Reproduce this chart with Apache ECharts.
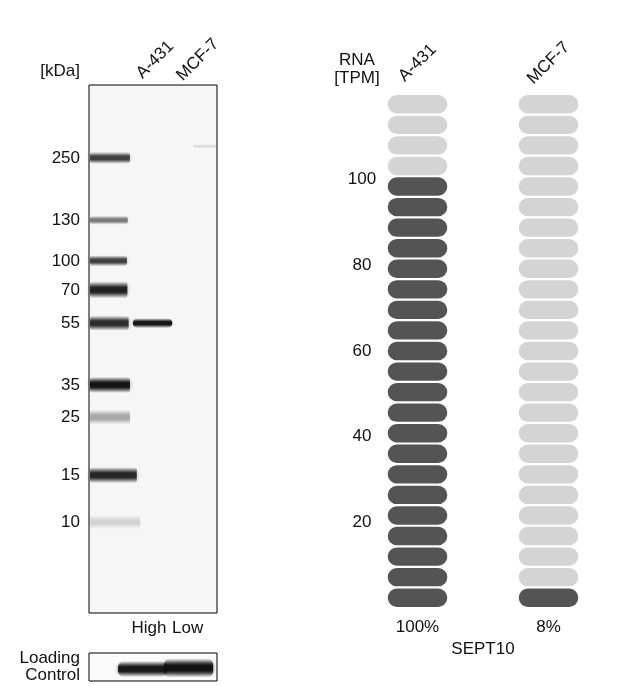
<!DOCTYPE html>
<html><head><meta charset="utf-8">
<script src="https://cdn.jsdelivr.net/npm/echarts@6/dist/echarts.min.js"></script>
<style>html,body{margin:0;padding:0;background:#fff}#c{width:642px;height:686px}</style>
</head><body><div id="c"></div>
<script>
// ---------------- data ----------------
const blotLanes = ['', 'A-431', 'MCF-7'];
const loadLanes = ['', 'High', 'Low'];
const ladderKDa = [250, 130, 100, 70, 55, 35, 25, 15, 10];
const ladderPos = [13.8, 25.6, 33.3, 38.8, 45.1, 56.8, 62.9, 73.9, 82.8]; // migration, % of blot height
const ladderIntensity = [0.75, 0.5, 0.75, 0.9, 0.85, 0.98, 0.32, 0.88, 0.15];
const sampleLane = ['A-431', 'MCF-7'];
const samplePos = [45.1, 11.6];
const sampleIntensity = [0.98, 0.12];
const loadingLane = ['High', 'Low'];
const loadingIntensity = [0.95, 1.0];
const rnaSamples = ['A-431', 'MCF-7'];
const rnaTPM = [101, 8];
const rnaTicks = [20, 40, 60, 80, 100];
const gene = 'SEPT10';
const pillCount = 25;
const rnaMax = 120;

// ---------------- style ----------------
const FONT = '"Liberation Sans", Arial, sans-serif';
const TXT = '#111';
const FS = 17;
const ladderBandPx = [12, 9, 11, 17, 15, 16, 15, 16, 14];
const ladderBandRight = [0.96, 0.91, 0.89, 0.9, 0.93, 0.96, 0.96, 1.12, 1.2];
const sampleBandShape = [{l: -0.47, r: 0.45, h: 10}, {l: -0.06, r: 0.5, h: 4}];
const loadBandShape = [{l: -0.82, r: 0.32, h: 16, dy: 2}, {l: -0.74, r: 0.41, h: 19, dy: 1}];
const lowerLabelShift = {High: 8, Low: 16};
const DARK = '#545454', LIGHT = '#d4d4d4';

function bandFill(a) {
  const col = k => 'rgba(15,15,15,' + (a * k).toFixed(3) + ')';
  return new echarts.graphic.LinearGradient(0, 0, 0, 1, [
    {offset: 0, color: col(0)}, {offset: 0.18, color: col(0.45)}, {offset: 0.35, color: col(0.95)},
    {offset: 0.5, color: col(1)}, {offset: 0.65, color: col(0.95)}, {offset: 0.82, color: col(0.45)}, {offset: 1, color: col(0)}
  ]);
}

const step = rnaMax / pillCount;
const maxTPM = Math.max(...rnaTPM);
const pct = rnaTPM.map(v => Math.round(v / maxTPM * 100));
const pillData = [];
rnaSamples.forEach((s, si) => {
  const nDark = Math.floor(rnaTPM[si] / step);
  for (let k = 0; k < pillCount; k++) pillData.push([si, k * step, (k + 1) * step, k < nDark ? 1 : 0]);
});

const chart = echarts.init(document.getElementById('c'), null, {renderer: 'canvas'});
const lbl = {fontFamily: FONT, fontSize: FS, color: TXT};
const hidden = {axisLine: {show: false}, axisTick: {show: false}, splitLine: {show: false}};

chart.setOption({
  backgroundColor: '#fff',
  animation: false,
  grid: [
    {left: 89, top: 85, width: 128, height: 528, show: true, borderColor: '#000', borderWidth: 1, backgroundColor: '#f6f6f6', outerBoundsMode: 'none', containLabel: false},
    {left: 89, top: 653, width: 128, height: 28, show: true, borderColor: '#000', borderWidth: 1, backgroundColor: '#fafafa', outerBoundsMode: 'none', containLabel: false},
    {left: 352, top: 94, width: 262, height: 514, show: false, outerBoundsMode: 'none', containLabel: false}
  ],
  xAxis: [
    Object.assign({gridIndex: 0, type: 'category', data: blotLanes, position: 'top',
      axisLabel: Object.assign({rotate: 45, align: 'center', verticalAlign: 'middle', margin: 23, interval: 0, padding: [0, 0, 0, 6]}, lbl)}, hidden),
    Object.assign({gridIndex: 0, type: 'category', position: 'bottom',
      data: loadLanes.map(v => ({value: v, textStyle: {padding: [0, lowerLabelShift[v] || 0, 0, 0]}})),
      axisLabel: Object.assign({margin: 7, interval: 0}, lbl)}, hidden),
    Object.assign({gridIndex: 1, type: 'category', data: loadLanes, axisLabel: {show: false}}, hidden),
    Object.assign({gridIndex: 2, type: 'category', data: rnaSamples, position: 'top',
      axisLabel: Object.assign({rotate: 45, align: 'center', verticalAlign: 'middle', margin: 31, interval: 0}, lbl)}, hidden),
    Object.assign({gridIndex: 2, type: 'category', data: rnaSamples, position: 'bottom',
      name: gene, nameLocation: 'middle', nameGap: 32, nameTextStyle: lbl,
      axisLabel: Object.assign({margin: 11, interval: 0, formatter: (v, i) => pct[i] + '%'}, lbl)}, hidden)
  ],
  yAxis: [
    Object.assign({gridIndex: 0, type: 'value', inverse: true, min: 0, max: 100,
      name: '[kDa]', nameLocation: 'start', nameGap: 14,
      nameTextStyle: Object.assign({align: 'right', verticalAlign: 'middle', padding: [0, 9, 0, 0]}, lbl),
      axisLabel: Object.assign({customValues: ladderPos, margin: 9, formatter: v => {
        let bi = 0; ladderPos.forEach((p, i) => { if (Math.abs(p - v) < Math.abs(ladderPos[bi] - v)) bi = i; });
        return String(ladderKDa[bi]);
      }}, lbl)}, hidden),
    Object.assign({gridIndex: 1, type: 'category', data: ['Loading\nControl'],
      axisLabel: Object.assign({margin: 9, lineHeight: 17, align: 'right', verticalAlign: 'middle', padding: [4, 0, 0, 0]}, lbl)}, hidden),
    Object.assign({gridIndex: 2, type: 'value', min: 0, max: rnaMax, interval: 20,
      name: 'RNA\n[TPM]', nameLocation: 'end', nameGap: 25,
      nameTextStyle: Object.assign({align: 'center', verticalAlign: 'middle', lineHeight: 18, padding: [0, 0, 0, 10]}, lbl),
      axisLabel: Object.assign({customValues: rnaTicks, margin: -10, align: 'center'}, lbl)}, hidden)
  ],
  series: [
    {
      type: 'custom', xAxisIndex: 0, yAxisIndex: 0, silent: true,
      data: ladderPos.map((p, i) => [0, p, ladderIntensity[i]]),
      renderItem: (params, api) => {
        const i = params.dataIndex;
        const c = api.coord([api.value(0), api.value(1)]);
        const w = api.size([1, 0])[0];
        const left = c[0] - w / 2 + 1;
        const h = ladderBandPx[i];
        return {type: 'rect', shape: {x: left, y: c[1] - h / 2, width: w * ladderBandRight[i] - 1, height: h, r: 3},
          style: {fill: bandFill(api.value(2)), shadowBlur: 4, shadowColor: 'rgba(0,0,0,' + api.value(2) * 0.35 + ')'}};
      }
    },
    {
      type: 'custom', xAxisIndex: 0, yAxisIndex: 0, silent: true,
      data: sampleLane.map((l, i) => [blotLanes.indexOf(l), samplePos[i], sampleIntensity[i]]),
      renderItem: (params, api) => {
        const s = sampleBandShape[params.dataIndex];
        const c = api.coord([api.value(0), api.value(1)]);
        const w = api.size([1, 0])[0];
        return {type: 'rect', shape: {x: c[0] + s.l * w, y: c[1] - s.h / 2, width: (s.r - s.l) * w, height: s.h, r: s.h / 2},
          style: {fill: bandFill(api.value(2)), shadowBlur: 3, shadowColor: 'rgba(0,0,0,' + api.value(2) * 0.35 + ')'}};
      }
    },
    {
      type: 'custom', xAxisIndex: 2, yAxisIndex: 1, silent: true,
      data: loadingLane.map((l, i) => [loadLanes.indexOf(l), 0, loadingIntensity[i]]),
      renderItem: (params, api) => {
        const s = loadBandShape[params.dataIndex];
        const c = api.coord([api.value(0), api.value(1)]);
        const w = api.size([1, 0])[0];
        return {type: 'rect', shape: {x: c[0] + s.l * w, y: c[1] + s.dy - s.h / 2, width: (s.r - s.l) * w, height: s.h, r: 6},
          style: {fill: bandFill(api.value(2)), shadowBlur: 4, shadowColor: 'rgba(0,0,0,' + api.value(2) * 0.45 + ')'}};
      }
    },
    {
      type: 'custom', xAxisIndex: 3, yAxisIndex: 2, silent: true,
      data: pillData,
      renderItem: (params, api) => {
        const top = api.coord([api.value(0), api.value(2)]);
        const bot = api.coord([api.value(0), api.value(1)]);
        const w = api.size([1, 0])[0] * 0.455;
        const gap = 2.2;
        const h = bot[1] - top[1] - gap;
        return {type: 'rect', shape: {x: top[0] - w / 2, y: top[1] + gap / 2, width: w, height: h, r: h / 2},
          style: {fill: api.value(3) ? DARK : LIGHT}};
      }
    }
  ]
});
</script></body></html>
